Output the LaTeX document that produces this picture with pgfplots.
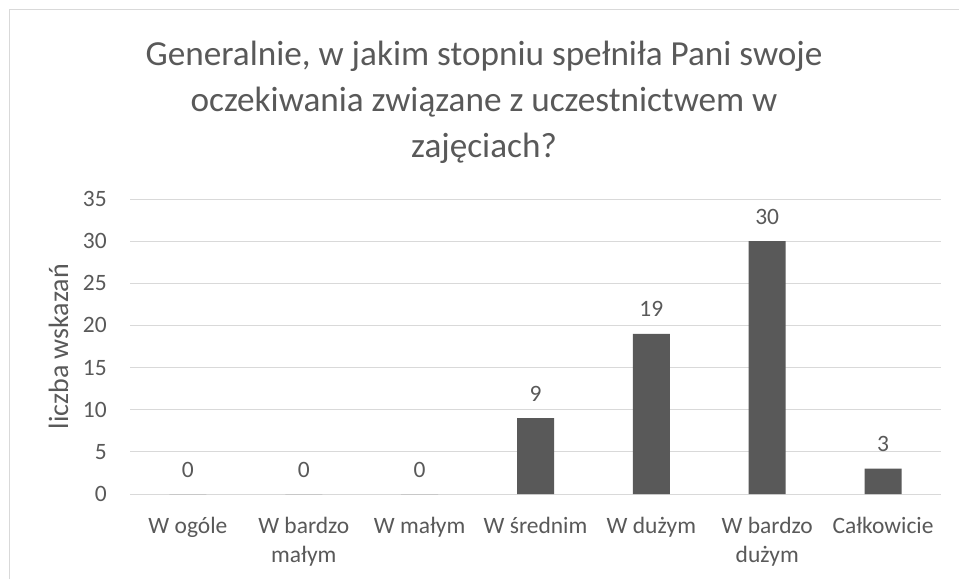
\documentclass[border=0pt]{standalone}
\usepackage{pgfplots}
\pgfplotsset{compat=1.18}
\usepackage{fontspec}
\setmainfont{Carlito}

\definecolor{txtgray}{HTML}{595959}
\definecolor{bargray}{HTML}{595959}
\definecolor{gridgray}{HTML}{D9D9D9}

\newcommand{\twoline}[2]{\begin{tabular}[t]{@{}c@{}}#1\\#2\end{tabular}}

\begin{document}
\begin{tikzpicture}
% 1 px of the reference = 0.75pt; origin at the top left corner
\useasboundingbox (0,0) rectangle (719.25pt,-434.25pt);
\fill[white] (0,0) rectangle (719.25pt,-434.25pt);
% chart area frame (only top and left edges are visible)
\draw[gridgray,line width=1pt] (7.1pt,-434.25pt) -- (7.1pt,-7.1pt) -- (719.25pt,-7.1pt);

% title
\begin{scope}[every node/.style={anchor=base,text=txtgray,inner sep=0pt,font=\fontsize{26.4}{33}\selectfont}]
\node at (363pt,-48.75pt) {Generalnie, w jakim stopniu spełniła Pani swoje};
\node at (363pt,-83.25pt) {oczekiwania związane z uczestnictwem w};
\node at (363pt,-117.75pt) {zajęciach?};
\end{scope}

% y axis label
\node[rotate=90,anchor=base,inner sep=0pt,text=txtgray,font=\fontsize{21}{25}\selectfont]
  at (51pt,-259.9pt) {liczba wskazań};

\begin{axis}[
  at={(97.5pt,-370.5pt)}, anchor=south west,
  scale only axis,
  width=608.25pt, height=221.25pt,
  xmin=-0.5, xmax=6.5,
  ymin=0, ymax=35,
  ytick={0,5,...,35},
  xtick={0,...,6},
  xticklabels={W ogóle,{\twoline{W bardzo}{małym}},W małym,W średnim,W dużym,{\twoline{W bardzo}{dużym}},Całkowicie},
  major tick length=0pt,
  axis line style={draw=none},
  ymajorgrids,
  grid style={gridgray,line width=0.75pt},
  /pgf/number format/assume math mode=true,
  tick label style={text=txtgray,font=\fontsize{17.6}{21.75}\selectfont,inner sep=0pt},
  yticklabel style={anchor=east,xshift=-17.25pt},
  xticklabel style={anchor=base,yshift=-29.25pt},
  ybar,
  bar width=27.75pt,
  nodes near coords,
  nodes near coords style={anchor=base,yshift=12.75pt,inner sep=0pt,text=txtgray,
    font=\fontsize{17.6}{21.75}\selectfont},
  clip=false,
]
\addplot[fill=bargray,draw=none] coordinates {
  (0,0) (1,0) (2,0) (3,9) (4,19) (5,30) (6,3)};
\end{axis}
\end{tikzpicture}
\end{document}
